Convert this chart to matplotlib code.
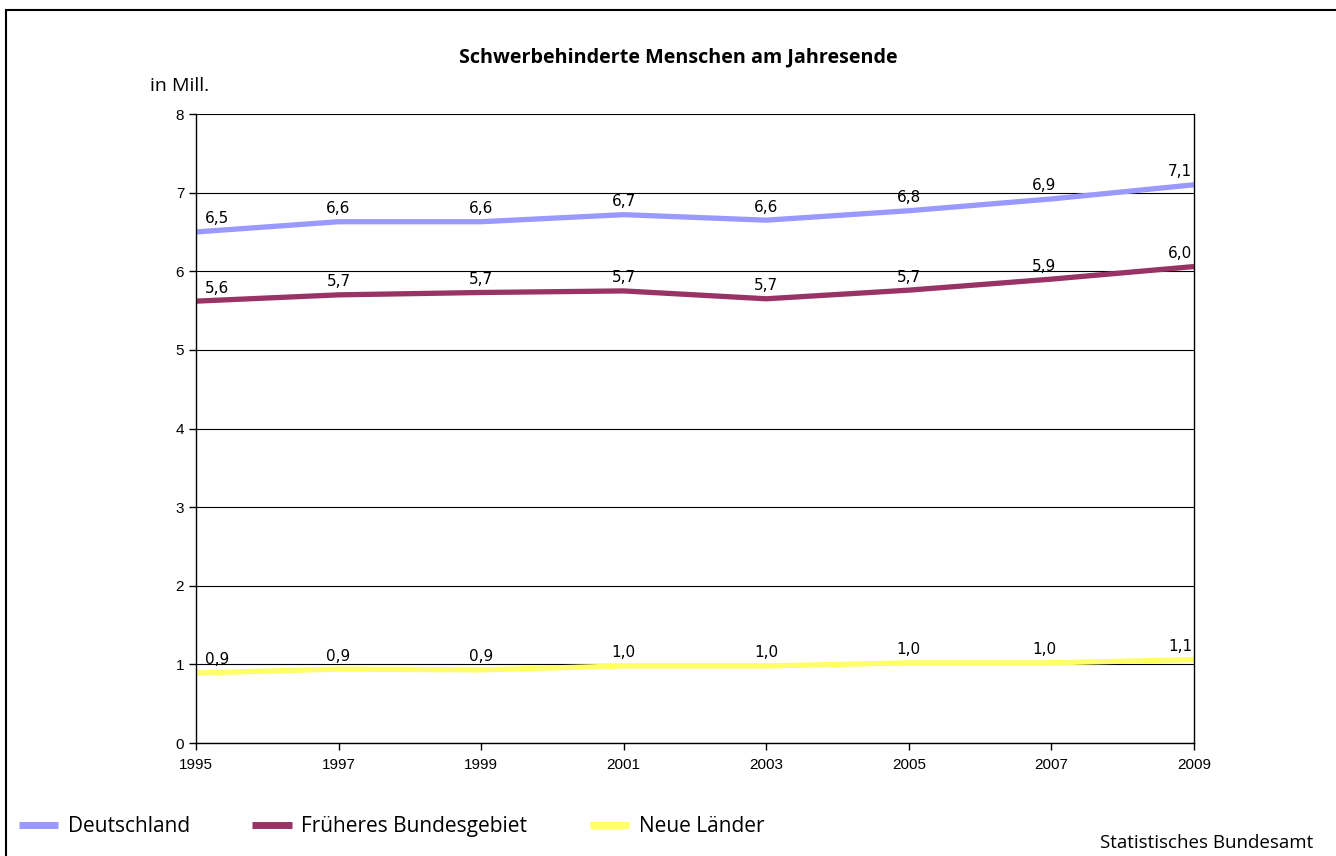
import matplotlib.pyplot as plt
from matplotlib.patches import Rectangle

years = [1995, 1997, 1999, 2001, 2003, 2005, 2007, 2009]
deutschland = [6.50, 6.63, 6.63, 6.72, 6.65, 6.77, 6.92, 7.10]
frueheres = [5.62, 5.70, 5.73, 5.75, 5.65, 5.76, 5.90, 6.06]
neue = [0.89, 0.94, 0.93, 0.98, 0.98, 1.02, 1.02, 1.06]
lab_de = ["6,5", "6,6", "6,6", "6,7", "6,6", "6,8", "6,9", "7,1"]
lab_fr = ["5,6", "5,7", "5,7", "5,7", "5,7", "5,7", "5,9", "6,0"]
lab_ne = ["0,9", "0,9", "0,9", "1,0", "1,0", "1,0", "1,0", "1,1"]

series = [
    ("Deutschland", deutschland, lab_de, "#9999ff"),
    ("Früheres Bundesgebiet", frueheres, lab_fr, "#993366"),
    ("Neue Länder", neue, lab_ne, "#ffff66"),
]

fig = plt.figure(figsize=(13.36, 8.56), dpi=100)
ax = fig.add_axes([0.1467, 0.132, 0.747, 0.7348])

ax.set_xlim(1995, 2009)
ax.set_ylim(0, 8)
ax.set_yticks(range(0, 9))
ax.set_xticks(years)
ax.grid(axis="y", color="black", linewidth=0.8)
ax.set_axisbelow(True)
for s in ax.spines.values():
    s.set_linewidth(1.0)
ax.spines["top"].set_visible(False)
ax.tick_params(axis="both", labelsize=11, length=5, width=1)
for t in ax.get_xticklabels() + ax.get_yticklabels():
    t.set_fontfamily("Liberation Sans")
ax.tick_params(axis="x", pad=6)

for name, vals, labs, col in series:
    ax.plot(years, vals, color=col, linewidth=3.8, label=name, solid_capstyle="butt")
    for i, (x, y, s) in enumerate(zip(years, vals, labs)):
        dx = 0
        if i == 0:
            dx = 15
        elif i == len(years) - 1:
            dx = -10
        elif i == len(years) - 2:
            dx = -5
        ax.annotate(s, (x, y), xytext=(dx, 4), textcoords="offset points",
                    ha="center", va="bottom", fontsize=11, family="DejaVu Sans")

fig.text(0.5075, 0.933, "Schwerbehinderte Menschen am Jahresende", ha="center", va="center",
         fontsize=14.2, fontweight="bold", family="Open Sans")
fig.text(0.112, 0.9, "in Mill.", ha="left", va="center", fontsize=14, family="Open Sans")
fig.text(0.983, 0.005, "Statistisches Bundesamt", ha="right", va="bottom",
         fontsize=13.5, family="Open Sans")

leg = fig.legend(loc="lower left", bbox_to_anchor=(0.0, 0.0), ncol=3, frameon=False,
                 prop={"family": "Open Sans", "size": 15}, handlelength=1.9,
                 columnspacing=3.0, handletextpad=0.45)
for h in leg.get_lines():
    h.set_linewidth(5.0)

fig.patches.append(Rectangle((0.0045, -0.02), 1.5, 1.008, transform=fig.transFigure,
                             fill=False, edgecolor="black", linewidth=1.5))

fig.savefig("out.png", dpi=100)
